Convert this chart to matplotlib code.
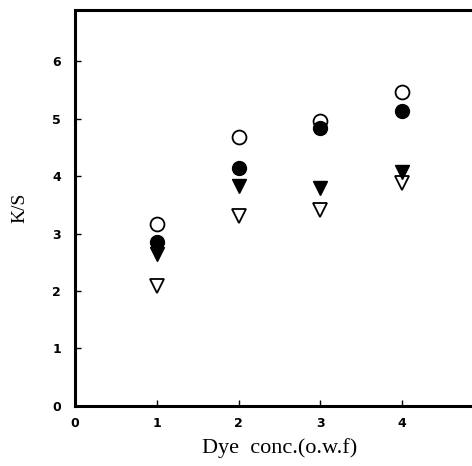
import matplotlib.pyplot as plt

# dye concentration (% o.w.f)
conc = [1, 2, 3, 4]

# K/S values
open_circle = [3.17, 4.68, 4.96, 5.47]
filled_circle = [2.85, 4.15, 4.84, 5.13]
filled_tri = [2.65, 3.83, 3.80, 4.08]
open_tri = [2.09, 3.30, 3.42, 3.89]

xticks = [0, 1, 2, 3, 4]
yticks = [0, 1, 2, 3, 4, 5, 6]


def make_plot():
    fig = plt.figure(figsize=(4.72, 4.66), dpi=100)
    ax = fig.add_axes([0.159, 0.129, 0.866, 0.85])

    ax.plot(conc, open_tri, 'v', ms=10, mfc='white', mec='black', mew=1.3, ls='none')
    ax.plot(conc, filled_tri, 'v', ms=10, mfc='black', mec='black', ls='none')
    ax.plot(conc, open_circle, 'o', ms=10, mfc='white', mec='black', mew=1.3, ls='none')
    ax.plot(conc, filled_circle, 'o', ms=10, mfc='black', mec='black', ls='none')

    ax.set_xlim(0, 5)
    ax.set_ylim(0, 6.9)
    ax.set_xticks(xticks)
    ax.set_yticks(yticks)
    ax.tick_params(direction='in', length=4, width=1, labelsize=9)
    ax.tick_params(axis='x', pad=8)
    ax.tick_params(axis='y', pad=10)
    for lab in ax.get_xticklabels() + ax.get_yticklabels():
        lab.set_fontweight('semibold')
    for s in ax.spines.values():
        s.set_linewidth(2.2)

    ax.set_xlabel('Dye  conc.(o.w.f)', family='Liberation Serif', fontsize=16, labelpad=6)
    ax.set_ylabel('K/S', family='Liberation Serif', fontsize=14, labelpad=17)
    return fig


def main():
    fig = make_plot()
    fig.savefig('out.png', dpi=100)


if __name__ == "__main__":
    main()
